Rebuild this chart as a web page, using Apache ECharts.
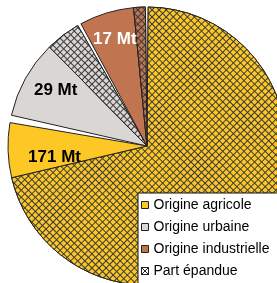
<!DOCTYPE html>
<html>
<head>
    <meta charset="utf-8">
    <title>Boues</title>
    <script src="https://cdn.jsdelivr.net/npm/echarts@6/dist/echarts.min.js"></script>
    <style>
        html, body { margin: 0; padding: 0; background: #fff; }
    </style>
</head>
<body>
<div id="main" style="width: 277px;height:283px;"></div>
<script type="text/javascript">
    // données (Mt)
    const categories = ['Origine agricole', 'Origine urbaine', 'Origine industrielle'];
    const totals = [171, 29, 17];
    const spread = [157, 9, 3];          // part épandue de chaque origine
    const spreadName = 'Part épandue';

    // style
    const colors = ['#FDC826', '#DAD6D4', '#C07550'];
    const labelColors = ['#000', '#000', '#fff'];
    const spreadFirst = [true, false, false];
    const gaps = [1.9, 0.9, 0.7];        // petits blancs entre les origines
    const labelShift = [[-20, 9], [-28, -20], [-11, -37]];
    const font = '"Liberation Sans", Arial, sans-serif';

    function hatch(color) {
        return {
            symbol: 'rect',
            symbolSize: 1,
            color: color,
            backgroundColor: '#3a3a3a',
            dashArrayX: [4, 1],
            dashArrayY: [4, 1],
            rotation: Math.PI / 4
        };
    }

    let pieData = [];
    let labelIndex = {};
    categories.forEach(function (name, i) {
        let solid = {
            name: name,
            value: totals[i] - spread[i],
            itemStyle: { color: colors[i] },
            label: {
                show: true,
                position: 'inside',
                formatter: totals[i] + ' Mt',
                color: labelColors[i],
                fontSize: 17,
                fontWeight: 'bold',
                fontFamily: font
            }
        };
        let hatched = {
            name: spreadName,
            value: spread[i],
            itemStyle: { color: colors[i], decal: hatch(colors[i]) }
        };
        let pair = spreadFirst[i] ? [hatched, solid] : [solid, hatched];
        pair.forEach(function (d) {
            if (d === solid) labelIndex[pieData.length] = i;
            pieData.push(d);
        });
        pieData.push({
            name: '',
            value: gaps[i],
            itemStyle: { color: 'rgba(0,0,0,0)', borderWidth: 0 },
            emphasis: { disabled: true },
            tooltip: { show: false }
        });
    });

    let myChart = echarts.init(document.getElementById('main'));
    myChart.setOption({
        animation: false,
        tooltip: { trigger: 'item', formatter: '{b}: {c} Mt' },
        legend: {
            orient: 'vertical',
            left: 138,
            top: 193,
            height: 100,
            backgroundColor: '#fff',
            borderColor: '#111',
            borderWidth: 1,
            borderRadius: 0,
            padding: [5, 12, 6, 3],
            itemWidth: 7,
            itemHeight: 7,
            itemGap: 8,
            selectedMode: false,
            textStyle: { fontSize: 14, color: '#000', fontFamily: font },
            itemStyle: { borderColor: '#222', borderWidth: 1 },
            data: categories.map(function (n) { return { name: n, icon: 'rect' }; }).concat([{
                name: spreadName,
                icon: 'path://M0,0L10,0L10,10L0,10ZM0,10L10,0M0,0L10,10',
                itemStyle: {
                    color: '#fff',
                    borderColor: '#222',
                    borderWidth: 1,
                    decal: { symbol: 'rect', color: 'rgba(0,0,0,0)', backgroundColor: 'rgba(0,0,0,0)' }
                }
            }])
        },
        series: [{
            type: 'pie',
            center: [147, 146],
            radius: 139,
            startAngle: 89.5,
            clockwise: true,
            avoidLabelOverlap: false,
            label: { show: false },
            labelLine: { show: false },
            emphasis: { scale: false },
            itemStyle: { borderColor: '#222', borderWidth: 1 },
            labelLayout: function (params) {
                let i = labelIndex[params.dataIndex];
                if (i === undefined) return {};
                return { dx: labelShift[i][0], dy: labelShift[i][1] };
            },
            data: pieData
        }]
    });
</script>
</body>
</html>
